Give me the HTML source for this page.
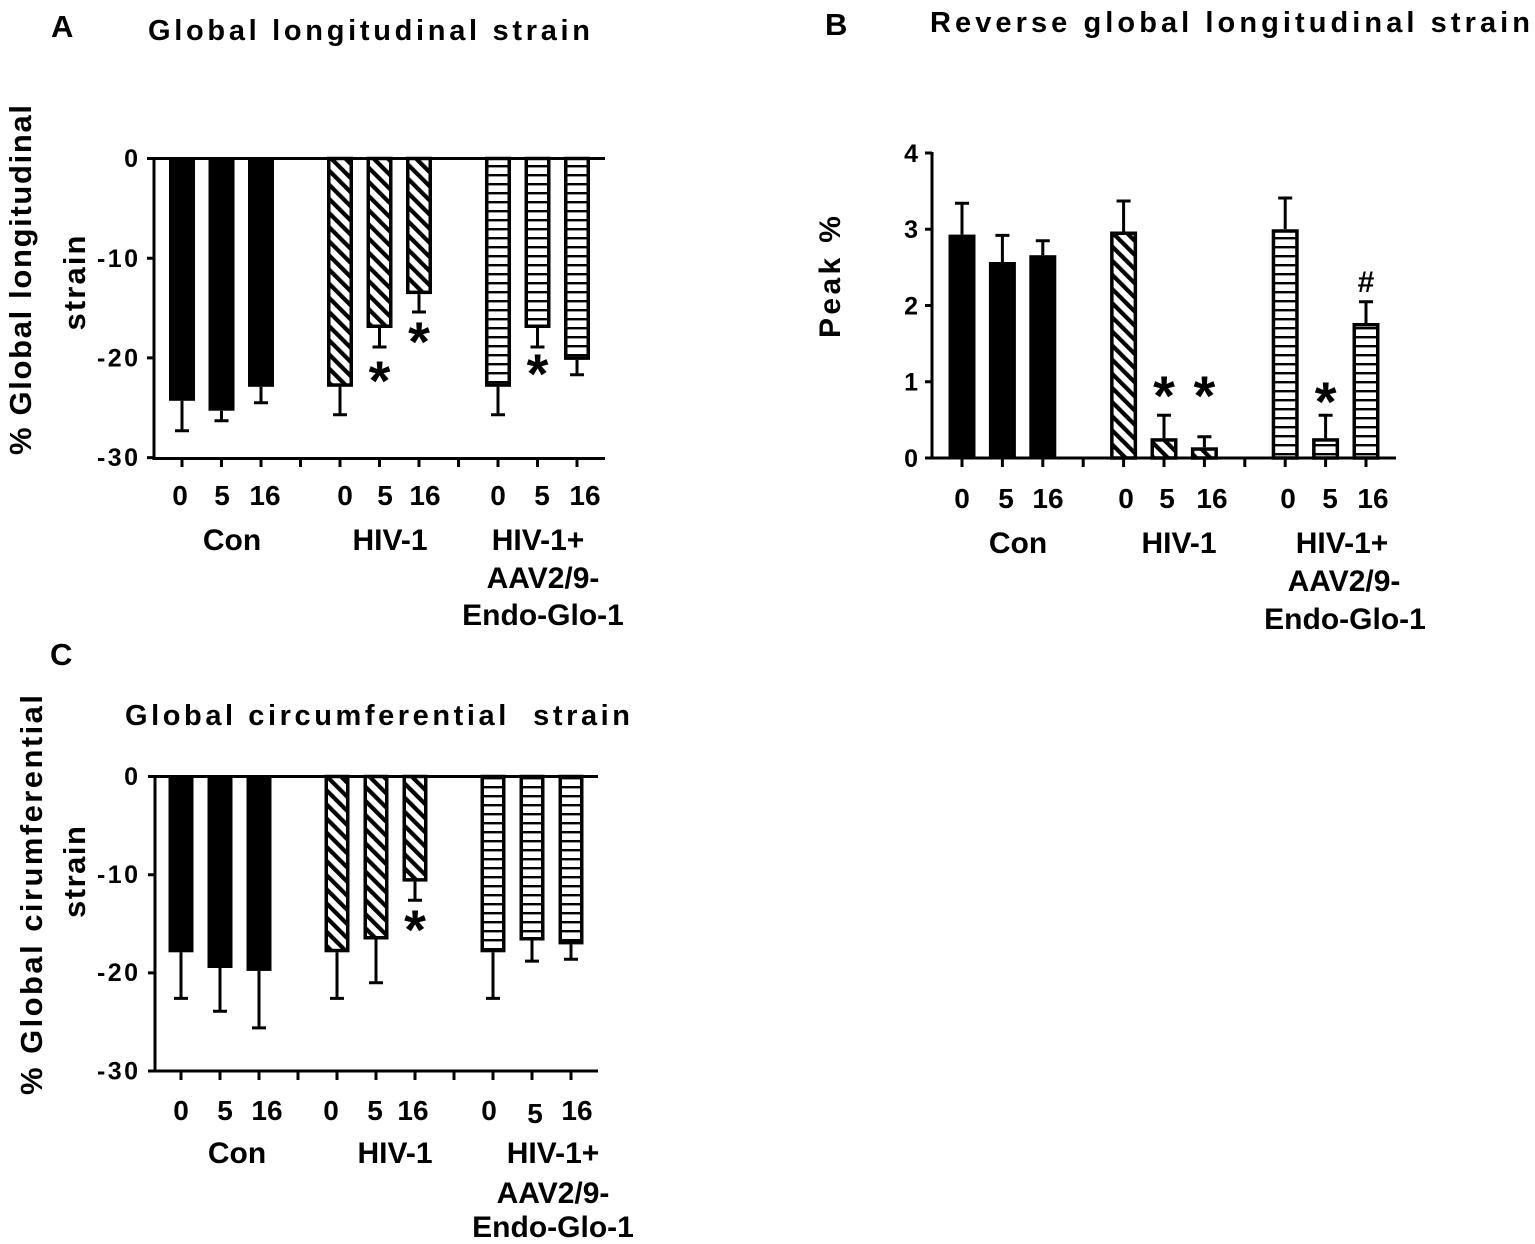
<!DOCTYPE html>
<html><head><meta charset="utf-8"><style>
html,body{margin:0;padding:0;background:#fff;}
svg{display:block;}
text{font-family:"Liberation Sans",Arial,sans-serif;font-weight:bold;fill:#000;}
</style></head><body>
<svg width="1535" height="1244" viewBox="0 0 1535 1244" xmlns="http://www.w3.org/2000/svg">
<defs>
<pattern id="d" patternUnits="userSpaceOnUse" width="10" height="10" patternTransform="rotate(-45)"><rect width="10" height="10" fill="#fff"/><rect width="4.2" height="10" fill="#000"/></pattern>
<pattern id="h" patternUnits="userSpaceOnUse" width="10" height="9"><rect width="10" height="9" fill="#fff"/><rect y="3" width="10" height="2.4" fill="#000"/></pattern>
</defs>
<rect width="1535" height="1244" fill="#fff"/>

<!-- ============ PANEL A ============ -->
<text x="51" y="37" style="font-size:31px">A</text>
<text x="148" y="40" style="font-size:29px" textLength="442" lengthAdjust="spacing">Global longitudinal strain</text>
<text transform="translate(31,280) rotate(-90)" style="font-size:31px" text-anchor="middle" textLength="350" lengthAdjust="spacing">% Global longitudinal</text>
<text transform="translate(85,283) rotate(-90)" style="font-size:31px" text-anchor="middle" textLength="95" lengthAdjust="spacing">strain</text>

<!-- bars A -->
<rect x="169" y="158.5" width="26" height="242.3" fill="#000"/>
<rect x="208.5" y="158.5" width="26" height="252.2" fill="#000"/>
<rect x="248" y="158.5" width="26" height="228.3" fill="#000"/>
<g stroke="#000" stroke-width="3.5">
<rect x="328.75" y="158.5" width="22.5" height="226.55" fill="url(#d)"/>
<rect x="368.25" y="158.5" width="22.5" height="167.75" fill="url(#d)"/>
<rect x="407.75" y="158.5" width="22.5" height="133.85" fill="url(#d)"/>
<rect x="486.75" y="158.5" width="22.5" height="226.55" fill="url(#h)"/>
<rect x="526.25" y="158.5" width="22.5" height="167.75" fill="url(#h)"/>
<rect x="565.75" y="158.5" width="22.5" height="199.65" fill="url(#h)"/>
</g>
<g stroke="#000" stroke-width="3" fill="none">
<path d="M182 400.8V430.7M175 430.7H189"/>
<path d="M221.5 410.7V420.7M214.5 420.7H228.5"/>
<path d="M261 386.8V402.8M254 402.8H268"/>
<path d="M340 386.8V414.7M333 414.7H347"/>
<path d="M379.5 328V347M372.5 347H386.5"/>
<path d="M419 294.1V312M412 312H426"/>
<path d="M498 386.8V414.7M491 414.7H505"/>
<path d="M537.5 328V347M530.5 347H544.5"/>
<path d="M577 359.9V374.8M570 374.8H584"/>
</g>
<!-- axes A -->
<g stroke="#000" stroke-width="3" fill="none">
<path d="M154 157V460"/>
<path d="M152.5 158.5H605"/>
<path d="M152.5 458.5H605"/>
<path d="M147 158.5H154M147 258.2H154M147 357.9H154M147 457.6H154"/>
<path d="M182 458V467M221.5 458V467M261 458V467M300.5 458V467M340 458V467M379.5 458V467M419 458V467M458.5 458V467M498 458V467M537.5 458V467M577 458V467"/>
</g>
<g style="font-size:25px">
<text x="138" y="167" text-anchor="end">0</text>
<text x="97" y="267" textLength="41" lengthAdjust="spacing">-10</text>
<text x="97" y="366.5" textLength="41" lengthAdjust="spacing">-20</text>
<text x="97" y="466" textLength="41" lengthAdjust="spacing">-30</text>
</g>
<g text-anchor="middle" style="font-size:56px">
<text x="379.5" y="400">*</text>
<text x="419" y="361">*</text>
<text x="537.5" y="393">*</text>
</g>
<g text-anchor="middle" style="font-size:28px">
<text x="180" y="505">0</text><text x="222" y="505">5</text><text x="265" y="505">16</text>
<text x="345" y="505">0</text><text x="385" y="505">5</text><text x="425" y="505">16</text>
<text x="498" y="505">0</text><text x="542" y="505">5</text><text x="585" y="505">16</text>
</g>
<g text-anchor="middle" style="font-size:30px">
<text x="232" y="550">Con</text>
<text x="390" y="550">HIV-1</text>
<text x="538" y="550">HIV-1+</text>
<text x="543" y="588">AAV2/9-</text>
<text x="543" y="625">Endo-Glo-1</text>
</g>

<!-- ============ PANEL B ============ -->
<text x="825" y="35" style="font-size:31px">B</text>
<text x="930" y="32" style="font-size:29px" textLength="600" lengthAdjust="spacing">Reverse global longitudinal strain</text>
<text transform="translate(840,277) rotate(-90)" style="font-size:30px" text-anchor="middle" textLength="122" lengthAdjust="spacing">Peak %</text>

<rect x="948.5" y="234.6" width="27" height="223.4" fill="#000"/>
<rect x="988.9" y="262" width="27" height="196" fill="#000"/>
<rect x="1029.3" y="255.2" width="27" height="202.8" fill="#000"/>
<g stroke="#000" stroke-width="3.5">
<rect x="1111.85" y="233.25" width="23.5" height="224.75" fill="url(#d)"/>
<rect x="1152.25" y="439.95" width="23.5" height="18.05" fill="url(#d)"/>
<rect x="1192.65" y="449.05" width="23.5" height="8.95" fill="url(#d)"/>
<rect x="1273.45" y="231" width="23.5" height="227" fill="url(#h)"/>
<rect x="1313.85" y="439.95" width="23.5" height="18.05" fill="url(#h)"/>
<rect x="1354.25" y="324.75" width="23.5" height="133.25" fill="url(#h)"/>
</g>
<g stroke="#000" stroke-width="3" fill="none">
<path d="M962 234.6V203.3M955 203.3H969"/>
<path d="M1002.4 262V235.4M995.4 235.4H1009.4"/>
<path d="M1042.8 255.2V240.7M1035.8 240.7H1049.8"/>
<path d="M1123.6 231.5V201M1116.6 201H1130.6"/>
<path d="M1164 438.2V415.3M1157 415.3H1171"/>
<path d="M1204.4 447.3V436.7M1197.4 436.7H1211.4"/>
<path d="M1285.2 229.25V198M1278.2 198H1292.2"/>
<path d="M1325.6 438.2V415.3M1318.6 415.3H1332.6"/>
<path d="M1366 323V301.7M1359 301.7H1373"/>
</g>
<g stroke="#000" stroke-width="3" fill="none">
<path d="M932 152V459.5"/>
<path d="M930.5 458H1396"/>
<path d="M925 153H932M925 229.25H932M925 305.5H932M925 381.75H932M925 458H932"/>
<path d="M962 458V467M1002.4 458V467M1042.8 458V467M1083.2 458V467M1123.6 458V467M1164 458V467M1204.4 458V467M1244.8 458V467M1285.2 458V467M1325.6 458V467M1366 458V467"/>
</g>
<g text-anchor="end" style="font-size:25px">
<text x="918" y="162">4</text>
<text x="918" y="238">3</text>
<text x="918" y="314.5">2</text>
<text x="918" y="390.5">1</text>
<text x="918" y="467">0</text>
</g>
<g text-anchor="middle">
<text x="1164" y="415" style="font-size:56px">*</text>
<text x="1204.4" y="415" style="font-size:56px">*</text>
<text x="1325.6" y="421" style="font-size:56px">*</text>
<text x="1366" y="292" style="font-size:30px">#</text>
</g>
<g text-anchor="middle" style="font-size:28px">
<text x="962" y="508">0</text><text x="1006" y="508">5</text><text x="1048" y="508">16</text>
<text x="1126" y="508">0</text><text x="1167" y="508">5</text><text x="1212" y="508">16</text>
<text x="1288" y="508">0</text><text x="1330" y="508">5</text><text x="1373" y="508">16</text>
</g>
<g text-anchor="middle" style="font-size:30px">
<text x="1018" y="553">Con</text>
<text x="1179" y="553">HIV-1</text>
<text x="1342" y="553">HIV-1+</text>
<text x="1344" y="591">AAV2/9-</text>
<text x="1345" y="629">Endo-Glo-1</text>
</g>

<!-- ============ PANEL C ============ -->
<text x="50" y="665" style="font-size:31px">C</text>
<text x="125" y="725" style="font-size:29px" textLength="505" lengthAdjust="spacing">Global circumferential&#160; strain</text>
<text transform="translate(42,895) rotate(-90)" style="font-size:31px" text-anchor="middle" textLength="400" lengthAdjust="spacing">% Global cirumferential</text>
<text transform="translate(85,872) rotate(-90)" style="font-size:31px" text-anchor="middle" textLength="92" lengthAdjust="spacing">strain</text>

<rect x="168.5" y="776.5" width="25" height="175.8" fill="#000"/>
<rect x="207.5" y="776.5" width="25" height="191.5" fill="#000"/>
<rect x="246.5" y="776.5" width="25" height="194.4" fill="#000"/>
<g stroke="#000" stroke-width="3.5">
<rect x="326.25" y="776.5" width="21.5" height="174.05" fill="url(#d)"/>
<rect x="365.25" y="776.5" width="21.5" height="161.25" fill="url(#d)"/>
<rect x="404.25" y="776.5" width="21.5" height="103.35" fill="url(#d)"/>
<rect x="482.25" y="776.5" width="21.5" height="174.05" fill="url(#h)"/>
<rect x="521.25" y="776.5" width="21.5" height="162.25" fill="url(#h)"/>
<rect x="560.25" y="776.5" width="21.5" height="166.15" fill="url(#h)"/>
</g>
<g stroke="#000" stroke-width="3" fill="none">
<path d="M181 952.3V998.4M174 998.4H188"/>
<path d="M220 968V1011.2M213 1011.2H227"/>
<path d="M259 970.9V1027.9M252 1027.9H266"/>
<path d="M337 952.3V998.4M330 998.4H344"/>
<path d="M376 939.5V982.7M369 982.7H383"/>
<path d="M415 881.6V900.2M408 900.2H422"/>
<path d="M493 952.3V998.4M486 998.4H500"/>
<path d="M532 940.5V961.1M525 961.1H539"/>
<path d="M571 944.4V959.2M564 959.2H578"/>
</g>
<g stroke="#000" stroke-width="3" fill="none">
<path d="M155 775V1072.5"/>
<path d="M153.5 776.5H598"/>
<path d="M153.5 1071H598"/>
<path d="M148 776.5H155M148 874.7H155M148 972.9H155M148 1071H155"/>
<path d="M181 1071V1080M220 1071V1080M259 1071V1080M298 1071V1080M337 1071V1080M376 1071V1080M415 1071V1080M454 1071V1080M493 1071V1080M532 1071V1080M571 1071V1080"/>
</g>
<g style="font-size:25px">
<text x="138" y="785" text-anchor="end">0</text>
<text x="97" y="883" textLength="41" lengthAdjust="spacing">-10</text>
<text x="97" y="981" textLength="41" lengthAdjust="spacing">-20</text>
<text x="97" y="1079.5" textLength="41" lengthAdjust="spacing">-30</text>
</g>
<text x="415" y="949" text-anchor="middle" style="font-size:56px">*</text>
<g text-anchor="middle" style="font-size:28px">
<text x="181" y="1120">0</text><text x="225" y="1120">5</text><text x="267" y="1120">16</text>
<text x="331" y="1120">0</text><text x="375" y="1120">5</text><text x="413" y="1120">16</text>
<text x="489" y="1120">0</text><text x="535" y="1123">5</text><text x="577" y="1120">16</text>
</g>
<g text-anchor="middle" style="font-size:30px">
<text x="237" y="1163">Con</text>
<text x="395" y="1163">HIV-1</text>
<text x="553" y="1163">HIV-1+</text>
<text x="553" y="1203">AAV2/9-</text>
<text x="553" y="1237">Endo-Glo-1</text>
</g>
</svg>
</body></html>
